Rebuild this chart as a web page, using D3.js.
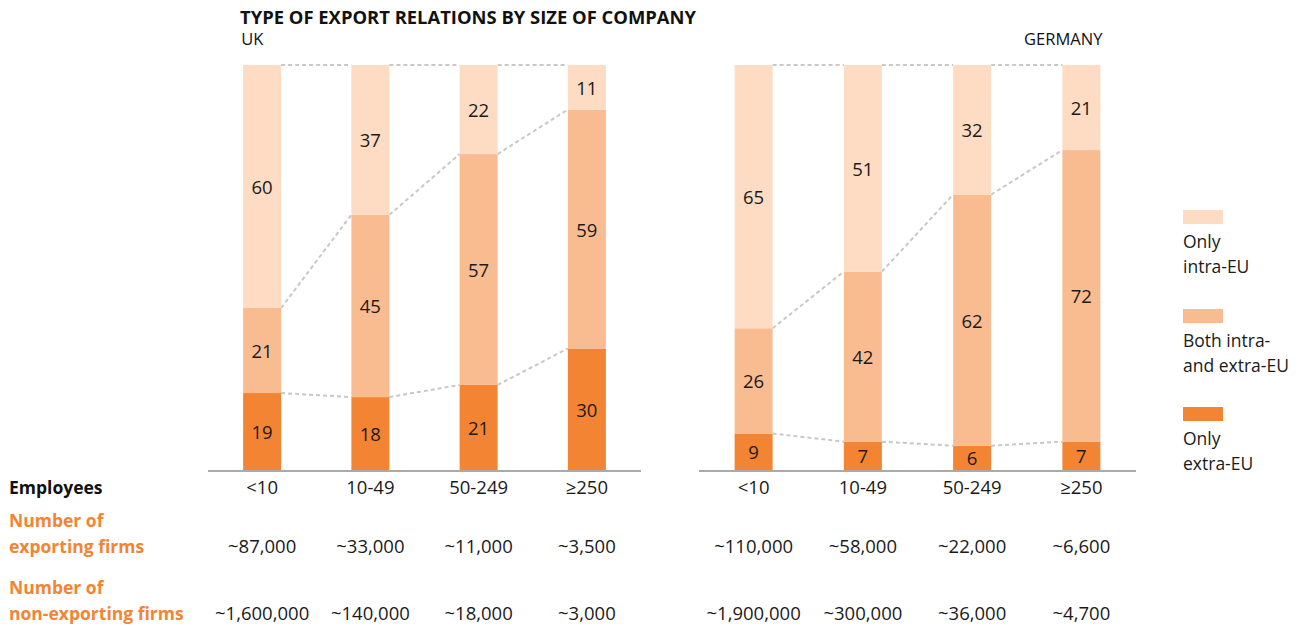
<!DOCTYPE html>
<html>
<head>
<meta charset="utf-8">
<script src="https://cdn.jsdelivr.net/npm/d3@7"></script>
<style>
  body { margin: 0; background: #fff; }
  text { font-family: "Open Sans", "Noto Sans", sans-serif; }
</style>
</head>
<body>
<div id="canvas"></div>
<script>
// categories (employees)
const categories = ["<10", "10-49", "50-249", "≥250"];

// UK shares (%)
const ukIntra = [60, 37, 22, 11];
const ukBoth = [21, 45, 57, 59];
const ukExtra = [19, 18, 21, 30];

// Germany shares (%)
const deIntra = [65, 51, 32, 21];
const deBoth = [26, 42, 62, 72];
const deExtra = [9, 7, 6, 7];

// firm counts
const ukExporting = ["~87,000", "~33,000", "~11,000", "~3,500"];
const ukNonExporting = ["~1,600,000", "~140,000", "~18,000", "~3,000"];
const deExporting = ["~110,000", "~58,000", "~22,000", "~6,600"];
const deNonExporting = ["~1,900,000", "~300,000", "~36,000", "~4,700"];

const legendLines = [["Only", "intra-EU"], ["Both intra-", "and extra-EU"], ["Only", "extra-EU"]];

const width = 1303, height = 627;
const colors = { extra: "#f38433", both: "#f9bc91", intra: "#fddcc3" };
const orange = "#f38433";
const barW = 38;

const svg = d3.select("#canvas").append("svg")
    .attr("width", width)
    .attr("height", height);

const y = d3.scaleLinear().domain([0, 100]).range([470, 65]);

// title
svg.append("text")
    .attr("x", 240).attr("y", 24)
    .attr("font-family", "Roboto, sans-serif")
    .attr("font-weight", "bold")
    .attr("font-size", "18px")
    .attr("textLength", 456)
    .attr("lengthAdjust", "spacingAndGlyphs")
    .attr("fill", "#111")
    .text("TYPE OF EXPORT RELATIONS BY SIZE OF COMPANY");

function drawPanel(name, range, intra, both, extra, exporting, nonExporting, nameAnchor) {
    const x = d3.scalePoint().domain(categories).range(range).padding(0.5);

    // rows: bottom to top
    const rows = categories.map((c, i) => ({ cat: c, extra: extra[i], both: both[i], intra: intra[i] }));
    const stack = d3.stack().keys(["extra", "both", "intra"])(rows);

    const g = svg.append("g");

    // baseline
    g.append("line")
        .attr("x1", range[0]).attr("x2", range[1])
        .attr("y1", y(0) + 1).attr("y2", y(0) + 1)
        .attr("stroke", "#aaa").attr("stroke-width", 2);

    // dashed connectors at each boundary
    stack.forEach(layer => {
        for (let i = 0; i < layer.length - 1; i++) {
            g.append("line")
                .attr("x1", x(categories[i]) + barW / 2)
                .attr("x2", x(categories[i + 1]) - barW / 2)
                .attr("y1", y(layer[i][1]))
                .attr("y2", y(layer[i + 1][1]))
                .attr("stroke", "#c8c8c8")
                .attr("stroke-width", 2)
                .attr("stroke-dasharray", "4,3");
        }
    });

    stack.forEach(layer => {
        const key = layer.key;
        g.selectAll(null)
            .data(layer)
            .join("rect")
            .attr("x", d => x(d.data.cat) - barW / 2)
            .attr("y", d => y(d[1]))
            .attr("width", barW)
            .attr("height", d => y(d[0]) - y(d[1]))
            .attr("fill", colors[key]);

        g.selectAll(null)
            .data(layer)
            .join("text")
            .attr("x", d => x(d.data.cat))
            .attr("y", d => (y(d[0]) + y(d[1])) / 2 + 1)
            .attr("dy", "0.35em")
            .attr("text-anchor", "middle")
            .attr("font-size", "18.5px")
            .attr("fill", "#1a1a1a")
            .text(d => d.data[key]);
    });

    // panel name
    g.append("text")
        .attr("x", nameAnchor === "start" ? x(categories[0]) - barW / 2 - 2 : x(categories[3]) + barW / 2 + 2)
        .attr("y", 45)
        .attr("text-anchor", nameAnchor)
        .attr("font-size", "16.5px")
        .attr("fill", "#111")
        .text(name);

    // table rows
    const tableRows = [[categories, 494], [exporting, 553], [nonExporting, 620]];
    tableRows.forEach(([vals, ty]) => {
        g.selectAll(null)
            .data(vals)
            .join("text")
            .attr("x", (d, i) => x(categories[i]))
            .attr("y", ty)
            .attr("text-anchor", "middle")
            .attr("font-size", "18.5px")
            .attr("fill", "#1a1a1a")
            .text(d => d);
    });
}

drawPanel("UK", [208, 641], ukIntra, ukBoth, ukExtra, ukExporting, ukNonExporting, "start");
drawPanel("GERMANY", [699, 1136], deIntra, deBoth, deExtra, deExporting, deNonExporting, "end");

// row headers
svg.append("text").attr("x", 9).attr("y", 494)
    .attr("font-size", "17.5px").attr("font-weight", "bold").attr("fill", "#111")
    .text("Employees");
[["Number of", 527], ["exporting firms", 553], ["Number of", 594], ["non-exporting firms", 620]].forEach(([t, ty]) => {
    svg.append("text").attr("x", 9).attr("y", ty)
        .attr("font-size", "17.5px").attr("font-weight", "bold").attr("fill", orange)
        .text(t);
});

// legend (top to bottom: intra, both, extra)
const legendKeys = ["intra", "both", "extra"];
const legendY = [210, 309, 407];
legendKeys.forEach((k, i) => {
    svg.append("rect")
        .attr("x", 1183).attr("y", legendY[i])
        .attr("width", 40).attr("height", 14)
        .attr("fill", colors[k]);
    legendLines[i].forEach((t, j) => {
        svg.append("text")
            .attr("x", 1183).attr("y", legendY[i] + 38 + j * 25)
            .attr("font-size", "17.5px").attr("fill", "#1a1a1a")
            .text(t);
    });
});
</script>
</body>
</html>
